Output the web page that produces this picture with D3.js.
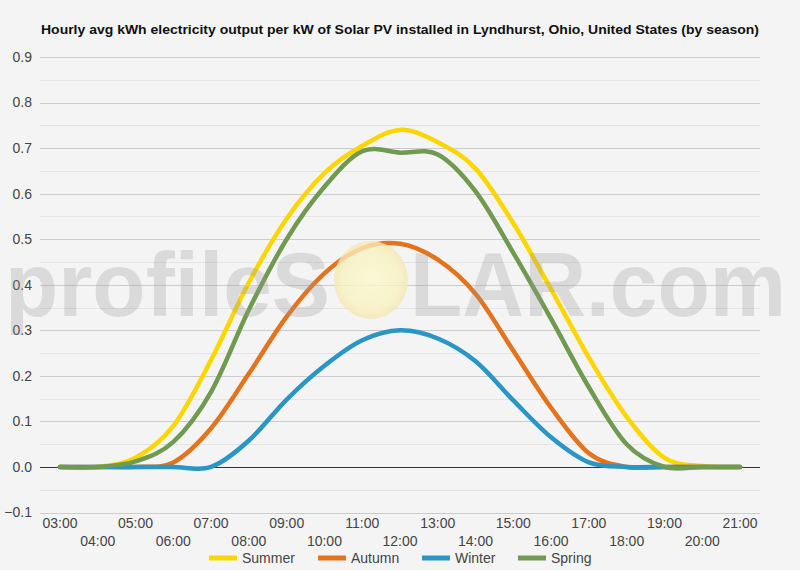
<!DOCTYPE html>
<html>
<head>
<meta charset="utf-8">
<script src="https://cdn.jsdelivr.net/npm/d3@7"></script>
<style>
  html, body { margin: 0; padding: 0; background: #f4f4f4; }
  svg { display: block; font-family: Arial, 'Liberation Sans', sans-serif; }
</style>
</head>
<body>
<div id="chart"></div>
<script>
const hours = d3.range(3, 22);
const hourLabels = hours.map((h) => `${String(h).padStart(2, '0')}:00`);
const yTicks = [-0.1, 0, 0.1, 0.2, 0.3, 0.4, 0.5, 0.6, 0.7, 0.8, 0.9];

const seasons = ['Summer', 'Autumn', 'Winter', 'Spring'];
const colors = ['#fdd600', '#e4731c', '#2996c6', '#6f9a4f'];

// kWh per kW, 03:00 .. 21:00
const summer = [0, 0, 0.02, 0.09, 0.235, 0.405, 0.545, 0.645, 0.705, 0.74, 0.713, 0.655, 0.535, 0.39, 0.24, 0.11, 0.02, 0.002, 0];
const autumn = [0, 0, 0, 0.01, 0.085, 0.205, 0.33, 0.425, 0.48, 0.49, 0.455, 0.38, 0.255, 0.13, 0.03, 0, 0, 0, 0];
const winter = [0, 0, 0, 0, 0, 0.058, 0.148, 0.222, 0.278, 0.30, 0.282, 0.232, 0.146, 0.065, 0.01, 0, 0, 0, 0];
const spring = [0, 0, 0.012, 0.055, 0.165, 0.345, 0.5, 0.615, 0.693, 0.69, 0.686, 0.605, 0.47, 0.325, 0.175, 0.05, 0, 0, 0];

const series = [summer, autumn, winter, spring];

const size = { width: 800, height: 570 };
const margin = { left: 40, right: 40, top: 57, bottom: 58 };

const svg = d3.select('#chart')
  .append('svg')
  .attr('width', size.width)
  .attr('height', size.height);

const x = d3.scaleLinear()
  .domain([3, 21])
  .range([60, 740]);

const y = d3.scaleLinear()
  .domain([-0.1, 0.9])
  .range([size.height - margin.bottom + 0.5, margin.top]);

// title
svg.append('text')
  .attr('x', size.width / 2)
  .attr('y', 34)
  .attr('text-anchor', 'middle')
  .attr('font-weight', 'bold')
  .attr('font-size', 13.5)
  .attr('fill', '#111')
  .attr('textLength', 718)
  .attr('lengthAdjust', 'spacingAndGlyphs')
  .text('Hourly avg kWh electricity output per kW of Solar PV installed in Lyndhurst, Ohio, United States (by season)');

// minor gridlines
const grid = svg.append('g');
grid.selectAll('line.minor')
  .data(d3.range(-0.05, 0.9, 0.1))
  .join('line')
  .attr('x1', margin.left)
  .attr('x2', size.width - margin.right)
  .attr('y1', (d) => Math.round(y(d)) + 0.5)
  .attr('y2', (d) => Math.round(y(d)) + 0.5)
  .attr('stroke', '#e4e4e4')
  .attr('stroke-width', 1);

grid.selectAll('line.major')
  .data(yTicks)
  .join('line')
  .attr('x1', margin.left)
  .attr('x2', size.width - margin.right)
  .attr('y1', (d) => Math.round(y(d)) + 0.5)
  .attr('y2', (d) => Math.round(y(d)) + 0.5)
  .attr('stroke', (d) => (d === 0 ? '#333' : '#cccccc'))
  .attr('stroke-width', 1);

// y labels
svg.append('g')
  .selectAll('text')
  .data(yTicks)
  .join('text')
  .attr('x', 32)
  .attr('y', (d) => y(d))
  .attr('dy', '0.35em')
  .attr('text-anchor', 'end')
  .attr('font-size', 14)
  .attr('fill', '#444')
  .text((d) => d3.format('.1f')(d));

// x labels, staggered on two rows
svg.append('g')
  .selectAll('text')
  .data(hours)
  .join('text')
  .attr('x', (d) => x(d))
  .attr('y', (d, i) => (i % 2 === 0 ? 523 : 541))
  .attr('dy', '0.35em')
  .attr('text-anchor', 'middle')
  .attr('font-size', 14)
  .attr('fill', '#444')
  .text((d, i) => hourLabels[i]);

// lines
const line = d3.line()
  .x((d, i) => x(hours[i]))
  .y((d) => y(d))
  .curve(d3.curveCardinal.tension(0));

svg.append('g')
  .selectAll('path')
  .data(series)
  .join('path')
  .attr('d', (d) => line(d))
  .attr('fill', 'none')
  .attr('stroke', (d, i) => colors[i])
  .attr('stroke-width', 4.5)
  .attr('stroke-linecap', 'round')
  .attr('stroke-linejoin', 'round');

// watermark
const defs = svg.append('defs');
const sunGrad = defs.append('radialGradient').attr('id', 'sun');
sunGrad.append('stop').attr('offset', '0%').attr('stop-color', '#fbf8cc');
sunGrad.append('stop').attr('offset', '75%').attr('stop-color', '#f8f2c0');
sunGrad.append('stop').attr('offset', '100%').attr('stop-color', '#f5e6b2');

const wm = svg.append('g').attr('pointer-events', 'none');
wm.append('ellipse')
  .attr('cx', 371)
  .attr('cy', 280)
  .attr('rx', 37)
  .attr('ry', 39)
  .attr('fill', 'url(#sun)')
  .attr('opacity', 0.8);
wm.append('text')
  .attr('x', 5)
  .attr('y', 316)
  .attr('font-size', 90)
  .attr('font-weight', 'bold')
  .attr('fill', '#999')
  .attr('opacity', 0.28)
  .attr('textLength', 325)
  .attr('lengthAdjust', 'spacingAndGlyphs')
  .text('profileS');
wm.append('text')
  .attr('x', 410)
  .attr('y', 316)
  .attr('font-size', 90)
  .attr('font-weight', 'bold')
  .attr('fill', '#999')
  .attr('opacity', 0.28)
  .attr('textLength', 376)
  .attr('lengthAdjust', 'spacingAndGlyphs')
  .text('LAR.com');

// legend
const legendX = [209, 318, 422, 518];
const legend = svg.append('g')
  .selectAll('g')
  .data(seasons)
  .join('g')
  .attr('transform', (d, i) => `translate(${legendX[i]}, 558)`);

legend.append('rect')
  .attr('x', 0)
  .attr('y', -2.5)
  .attr('width', 28)
  .attr('height', 5)
  .attr('fill', (d, i) => colors[i]);

legend.append('text')
  .attr('x', 33)
  .attr('dy', '0.35em')
  .attr('font-size', 14)
  .attr('fill', '#444')
  .text((d) => d);
</script>
</body>
</html>
